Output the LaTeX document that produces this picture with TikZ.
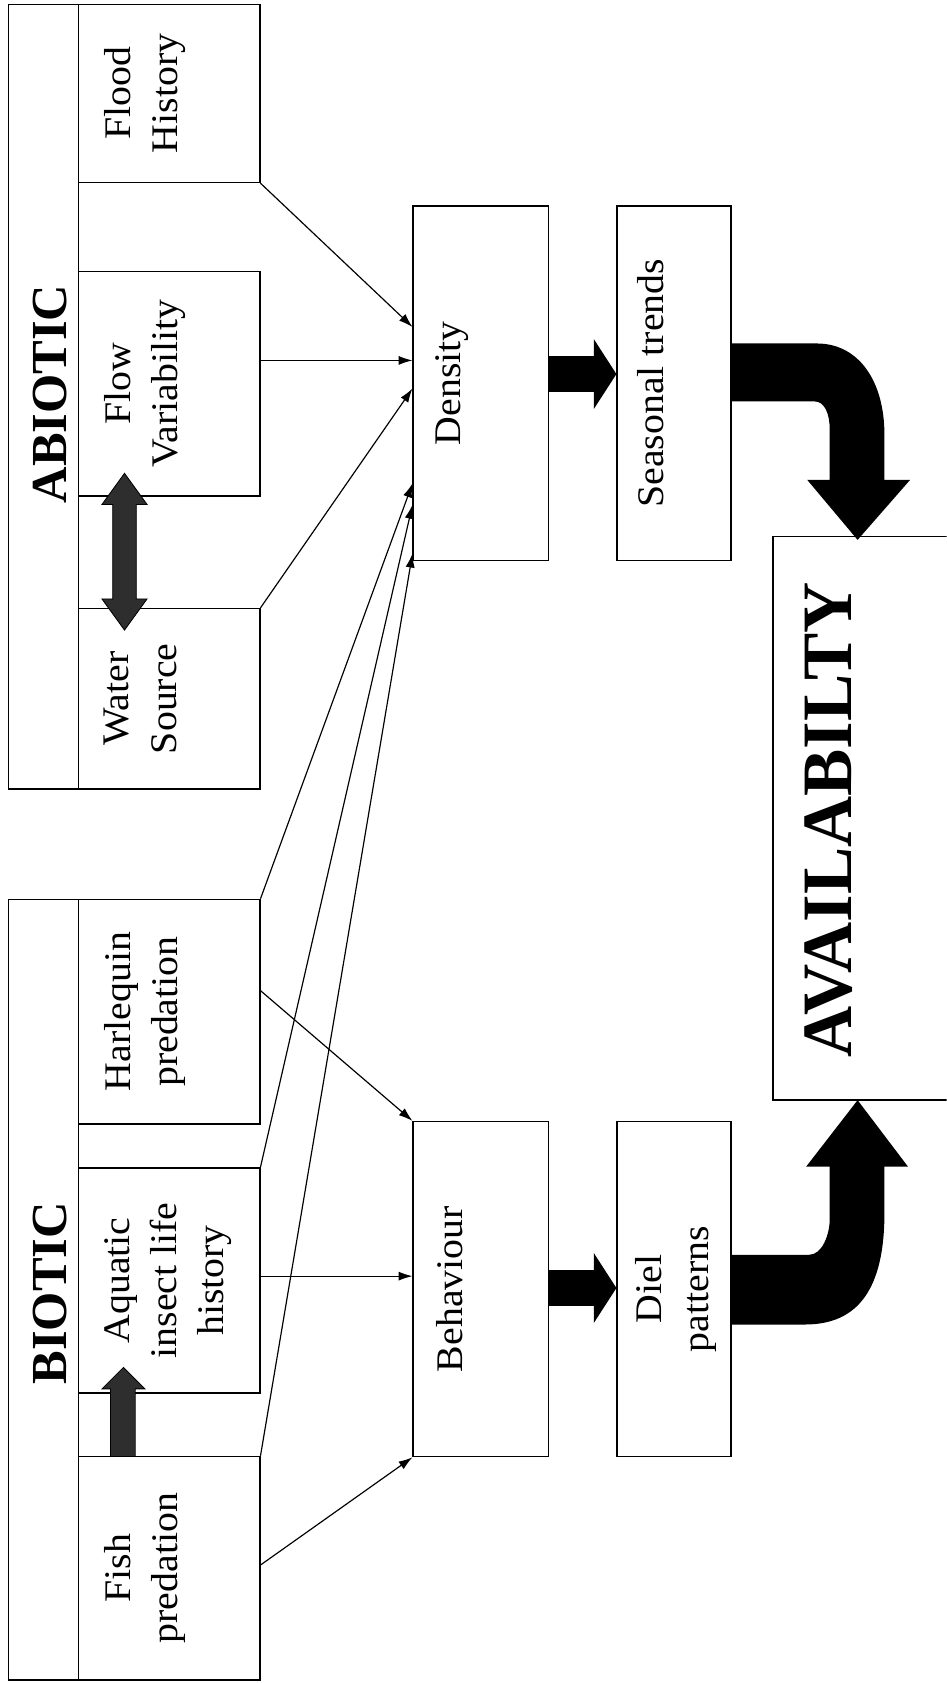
\documentclass[tikz,border=0pt]{standalone}
\usepackage{fontspec}
\setmainfont{Liberation Serif}
\newfontfamily\bodyfont[FakeStretch=1.06]{Liberation Serif}
\usetikzlibrary{arrows.meta,calc}
\begin{document}
\begin{tikzpicture}[x=1pt,y=-1pt,
  box/.style={draw, line width=1.4pt, fill=white, inner sep=0pt, rectangle},
  txt/.style={rotate=90, anchor=north, inner sep=0pt, align=center, font=\bodyfont\fontsize{35}{44}\selectfont},
  headtxt/.style={rotate=90, inner sep=0pt, font=\fontsize{47}{50}\selectfont\bfseries},
  conn/.style={line width=1.1pt, -{Latex[length=13pt,width=8.5pt]}},
  fatarrow/.style={line width=33pt, -{Triangle[length=21pt,width=64pt]}},
  fatfill/.style={fill=black},
  grayarrow/.style={fill=black!82, draw=black, line width=0.8pt}]
\useasboundingbox (0,0) rectangle (882,1568);
\clip (0,0) rectangle (882,1568);
\fill[white] (0,0) rectangle (882,1568);

% group strips
\node[box, minimum width=65pt, minimum height=731pt] (abs) at (40.5,369.5) {};
\node[box, minimum width=65pt, minimum height=727pt] (bio) at (40.5,1201.5) {};

% factor boxes
\node[box, minimum width=169pt, minimum height=166pt] (fh) at (157.5,87) {};
\node[box, minimum width=169pt, minimum height=209pt] (fv) at (157.5,357.5) {};
\node[box, minimum width=169pt, minimum height=168pt] (ws) at (157.5,651) {};
\node[box, minimum width=169pt, minimum height=209pt] (hp) at (157.5,942.5) {};
\node[box, minimum width=169pt, minimum height=210pt] (ai) at (157.5,1193) {};
\node[box, minimum width=169pt, minimum height=208pt] (fp) at (157.5,1461) {};

% middle boxes
\node[box, minimum width=126pt, minimum height=330pt] (dens) at (448,357) {};
\node[box, minimum width=126pt, minimum height=312pt] (beh) at (448,1201) {};
\node[box, minimum width=106pt, minimum height=330pt] (st) at (628,357) {};
\node[box, minimum width=106pt, minimum height=312pt] (dp) at (628,1201) {};
\node[box, minimum width=175pt, minimum height=525pt] (avail) at (807.5,762.5) {};

% texts
\node[headtxt] (tabs) at (47,367) {ABIOTIC};
\node[headtxt] (tbio) at (47,1205) {BIOTIC};
\node[txt] (tfh) at (97,87) {Flood\\History};
\node[txt] (tfv) at (97,357.5) {Flow\\Variability};
\node[txt] (tws) at (97,651) {Water\\Source};
\node[txt] (thp) at (97,942.5) {Harlequin\\predation};
\node[txt] (tai) at (97,1193) {Aquatic\\insect life\\history};
\node[txt] (tfp) at (97,1461) {Fish\\predation};
\node[txt] (tdens) at (406,357) {Density};
\node[txt] (tbeh) at (406,1201) {Behaviour};
\node[txt] (tst) at (594,357) {Seasonal trends};
\node[txt] (tdp) at (592,1201) {Diel\\patterns};
\node[headtxt, font=\fontsize{66}{70}\selectfont\bfseries] (tav) at (772,764) {AVAILABILTY};

% thin connectors into Density
\draw[conn] (fh.south east) -- ($(dens.north west)!0.342!(dens.south west)$);
\coordinate (dF) at ($(dens.north west)!0.436!(dens.south west)$);
\draw[conn] (fv.east |- dF) -- (dF);
\draw[conn] (ws.north east) -- ($(dens.north west)!0.515!(dens.south west)$);
\draw[conn] (hp.north east) -- ($(dens.north west)!0.782!(dens.south west)$);
\draw[conn] (ai.north east) -- ($(dens.north west)!0.842!(dens.south west)$);
\draw[conn] (fp.north east) -- ($(dens.north west)!0.979!(dens.south west)$);

% thin connectors into Behaviour
\draw[conn] ($(hp.north east)!0.407!(hp.south east)$) -- (beh.north west);
\coordinate (bA) at ($(beh.north west)!0.4615!(beh.south west)$);
\draw[conn] (ai.east |- bA) -- (bA);
\draw[conn] ($(fp.north east)!0.486!(fp.south east)$) -- (beh.south west);

% fat straight arrows
\coordinate (yS) at (0,348.5);
\draw[fatarrow] (dens.east |- yS) -- (st.west |- yS);
\coordinate (yD) at (0,1200);
\draw[fatarrow] (beh.east |- yD) -- (dp.west |- yD);

% fat curved arrows
\fill[fatfill] (681,320) -- (761,320) .. controls (800,320) and (824,355) .. (824,405)
  -- (824,447) -- (848,447) -- (799,503) -- (752,447) -- (773,447) -- (773,400)
  .. controls (773,385) and (768,374) .. (759,374) -- (681,374) -- cycle;
\fill[fatfill] (681,1169) -- (754,1169) .. controls (766,1169) and (773,1150) .. (773,1136)
  -- (773,1087) -- (751,1087) -- (799,1025) -- (846,1087) -- (824,1087) -- (824,1130)
  .. controls (824,1200) and (800,1234) .. (750,1234) -- (681,1234) -- cycle;

% gray arrows inside groups
\filldraw[grayarrow] (116,441) -- (137,470) -- (127,470) -- (127,558) -- (137,558) -- (116,587)
  -- (95,558) -- (105,558) -- (105,470) -- (95,470) -- cycle;
\filldraw[grayarrow] (103,1357) -- (103,1294) -- (95,1294) -- (115,1274) -- (135,1294)
  -- (126,1294) -- (126,1357) -- cycle;
\end{tikzpicture}
\end{document}
